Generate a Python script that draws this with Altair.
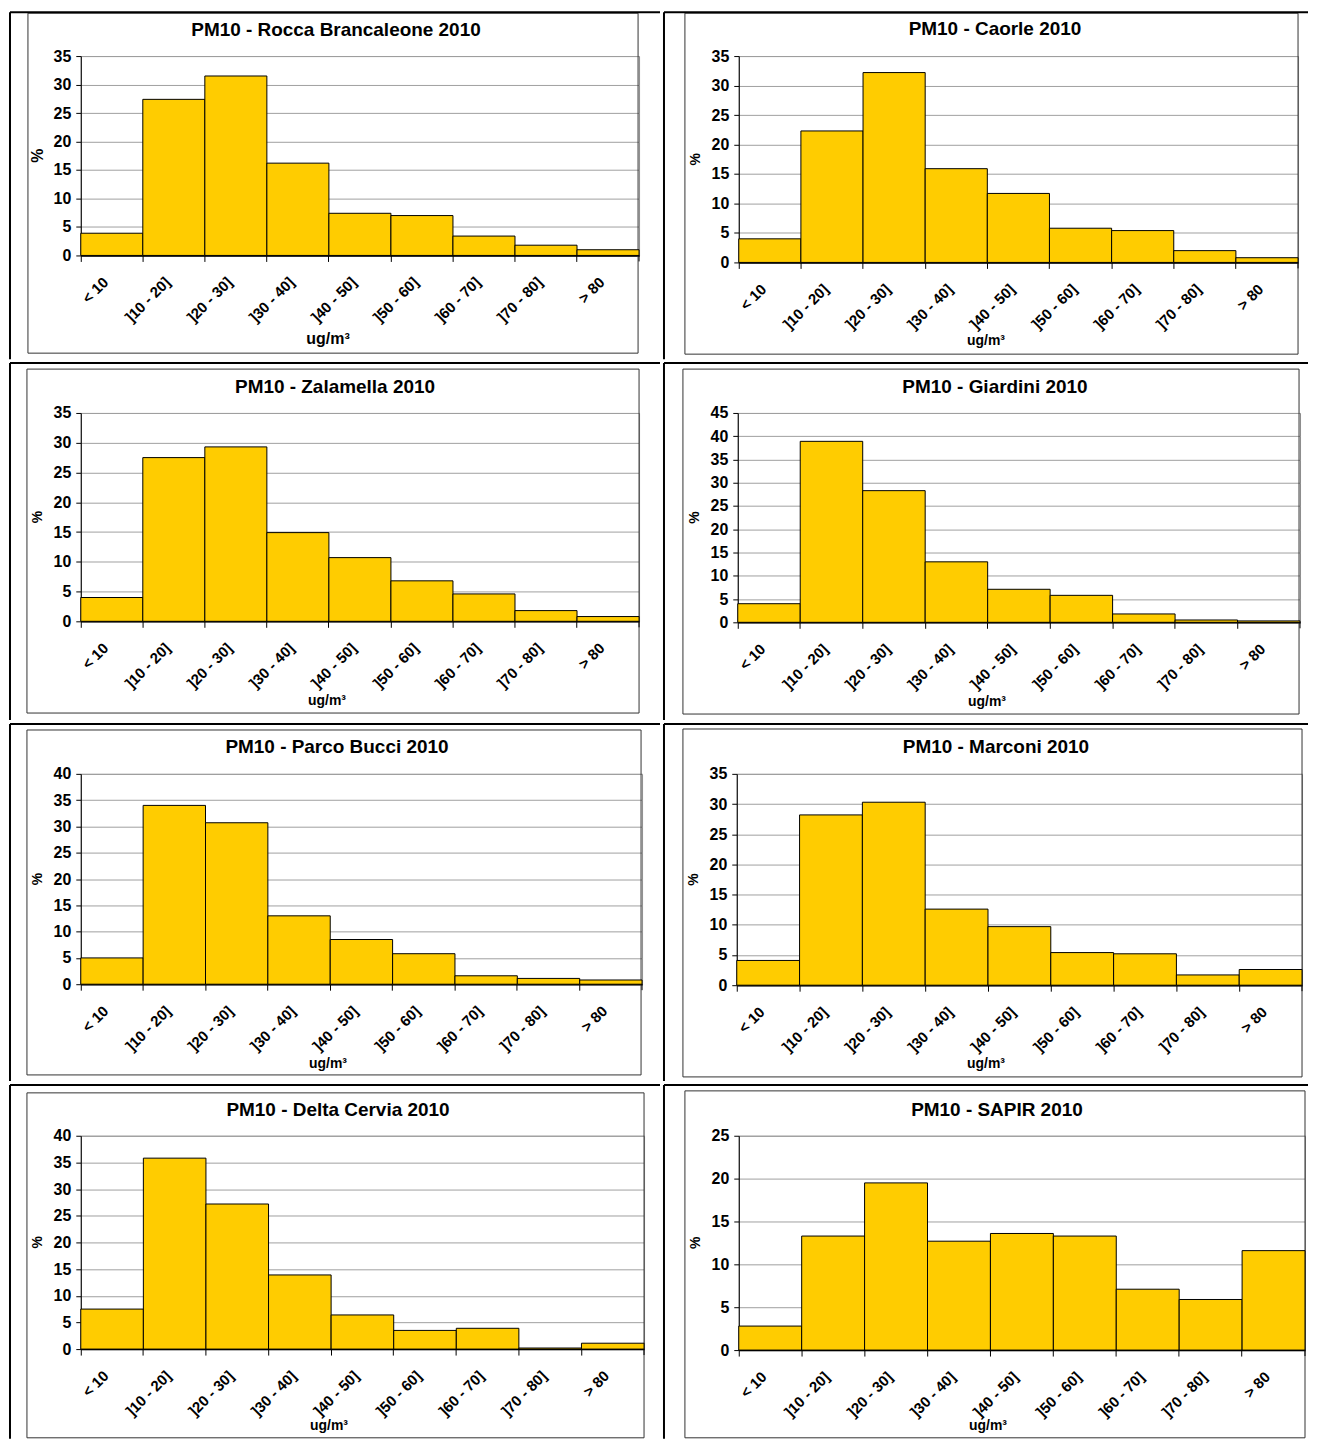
import altair as alt
import pandas as pd

# ---------------- data ----------------
categories = ["< 10", "]10 - 20]", "]20 - 30]", "]30 - 40]", "]40 - 50]",
              "]50 - 60]", "]60 - 70]", "]70 - 80]", "> 80"]

rocca = [3.9, 27.4, 31.5, 16.2, 7.4, 7.0, 3.4, 1.8, 1.0]
caorle = [4.0, 22.3, 32.2, 15.9, 11.7, 5.8, 5.4, 2.0, 0.8]
zalamella = [4.0, 27.5, 29.3, 14.9, 10.7, 6.8, 4.6, 1.8, 0.8]
giardini = [4.0, 38.9, 28.3, 13.0, 7.1, 5.8, 1.8, 0.5, 0.3]
parco_bucci = [5.0, 34.0, 30.7, 13.0, 8.5, 5.8, 1.6, 1.1, 0.8]
marconi = [4.1, 28.2, 30.3, 12.6, 9.7, 5.4, 5.2, 1.7, 2.6]
delta_cervia = [7.5, 35.8, 27.2, 13.9, 6.4, 3.5, 3.9, 0.2, 1.1]
sapir = [2.8, 13.3, 19.5, 12.7, 13.6, 13.3, 7.1, 5.9, 11.6]

titles = ["PM10 - Rocca Brancaleone 2010", "PM10 - Caorle 2010",
          "PM10 - Zalamella 2010", "PM10 - Giardini 2010",
          "PM10 - Parco Bucci 2010", "PM10 - Marconi 2010",
          "PM10 - Delta Cervia 2010", "PM10 - SAPIR 2010"]
series = [rocca, caorle, zalamella, giardini, parco_bucci, marconi, delta_cervia, sapir]
y_max = [35, 35, 35, 45, 40, 35, 40, 25]
y_label = "%"
x_label = "ug/m\u00b3"

# ---------------- layout (page pixels) ----------------
FONT = "Liberation Sans"
BAR = "#FFCC00"
COL_EDGES = [8, 662, 1310]
ROW_EDGES = [11, 361, 721, 1081, 1438]
ROW_TOP = [56, 412, 772, 1133]
LEFT_COL_X = 80
RIGHT_COL_X = [738, 737, 736, 738]

layout = [
    dict(W=560, H=200, box=(27, 639, 13, 354), t=(336, 30), u=(328, 340), fs=16),
    dict(W=561, H=207, box=(684, 1299, 13, 355), t=(995, 29), u=(986, 342), fs=14),
    dict(W=560, H=209, box=(26, 640, 368, 713), t=(335, 386), u=(327, 701), fs=14),
    dict(W=564, H=210, box=(682, 1300, 368, 714), t=(995, 386), u=(987, 702), fs=14),
    dict(W=563, H=211, box=(26, 642, 728, 1074), t=(337, 745), u=(328, 1063), fs=14),
    dict(W=567, H=212, box=(682, 1303, 727, 1076), t=(996, 745), u=(986, 1063), fs=14),
    dict(W=565, H=214, box=(26, 645, 1090, 1436), t=(338, 1107), u=(329, 1424), fs=14),
    dict(W=568, H=215, box=(684, 1306, 1088, 1436), t=(997, 1107), u=(988, 1424), fs=14),
]

one = pd.DataFrame({"k": [0]})


def panel(i):
    r, c = divmod(i, 2)
    lay = layout[i]
    W, H = lay["W"], lay["H"]
    px0 = LEFT_COL_X if c == 0 else RIGHT_COL_X[r]
    py0 = ROW_TOP[r]
    cx0, cx1 = COL_EDGES[c] - px0, COL_EDGES[c + 1] - px0
    cy0, cy1 = ROW_EDGES[r] - py0, ROW_EDGES[r + 1] - py0
    bl, br, bt, bb = lay["box"]
    ymax = y_max[i]
    fs = lay["fs"]

    df = pd.DataFrame({"classe": categories, "perc": series[i]})

    # invisible cell: fixes the grid cell size
    cell = alt.Chart(one).mark_rect(opacity=0).encode(
        x=alt.value(cx0), x2=alt.value(cx1), y=alt.value(cy0), y2=alt.value(cy1))
    # table lines (kept inside the cell so they do not enlarge it)
    top_line = alt.Chart(one).mark_rule(color="black", strokeWidth=2).encode(
        x=alt.value(cx0 + 1), x2=alt.value(cx1 - 1), y=alt.value(cy0 + 1))
    left_line = alt.Chart(one).mark_rule(color="black", strokeWidth=2).encode(
        x=alt.value(cx0 + 1), y=alt.value(cy0 + 1), y2=alt.value(cy1 - 1))
    box = alt.Chart(one).mark_rect(fillOpacity=0, stroke="#333333", strokeWidth=1).encode(
        x=alt.value(bl - px0), x2=alt.value(br - px0),
        y=alt.value(bt - py0), y2=alt.value(bb - py0))

    bars = alt.Chart(df).mark_bar(fill=BAR, stroke="black", strokeWidth=1).encode(
        x=alt.X("classe:N", sort=categories, title=None,
                scale=alt.Scale(paddingInner=0, paddingOuter=0),
                axis=alt.Axis(bandPosition=0, labelAngle=315, labelAlign="right",
                              labelBaseline="top", labelOffset=-11, labelPadding=13,
                              labelFont=FONT, labelFontSize=15, labelFontWeight="bold",
                              labelColor="black", labelOverlap=False,
                              domainColor="black", domainWidth=1.5,
                              tickColor="black", tickSize=6, tickWidth=1, grid=False)),
        y=alt.Y("perc:Q", title=None,
                scale=alt.Scale(domain=[0, ymax], nice=False),
                axis=alt.Axis(values=list(range(0, ymax + 1, 5)), grid=True,
                              gridColor="#a0a0a0", gridWidth=1,
                              domainColor="black", domainWidth=1,
                              tickColor="black", tickSize=5, tickWidth=1,
                              labelFont=FONT, labelFontSize=16, labelFontWeight="bold",
                              labelColor="black", labelPadding=5)),
    )

    end_tick = alt.Chart(one).mark_rule(color="black", strokeWidth=1).encode(
        x=alt.value(W), y=alt.value(H), y2=alt.value(H + 6))

    title = alt.Chart(one).mark_text(
        text=titles[i], font=FONT, fontSize=19, fontWeight="bold",
        align="center", baseline="middle", color="black").encode(
        x=alt.value(lay["t"][0] - px0), y=alt.value(lay["t"][1] - py0))
    ytitle = alt.Chart(one).mark_text(
        text=y_label, font=FONT, fontSize=fs, fontWeight="bold", angle=270,
        align="center", baseline="middle", color="black").encode(
        x=alt.value(-43), y=alt.value(H / 2))
    xtitle = alt.Chart(one).mark_text(
        text=x_label, font=FONT, fontSize=fs, fontWeight="bold",
        align="center", baseline="middle", color="black").encode(
        x=alt.value(lay["u"][0] - px0), y=alt.value(lay["u"][1] - py0))

    return alt.layer(cell, box, bars, end_tick, top_line, left_line,
                     title, ytitle, xtitle).properties(width=W, height=H)


rows = [alt.hconcat(panel(2 * r), panel(2 * r + 1), spacing=0) for r in range(4)]

chart = alt.vconcat(*rows, spacing=0).properties(padding=0).configure(
    font=FONT
).configure_view(stroke="#8c8c8c", strokeWidth=1)

chart.save("out.html", embed_options={"renderer": "svg", "actions": False})
